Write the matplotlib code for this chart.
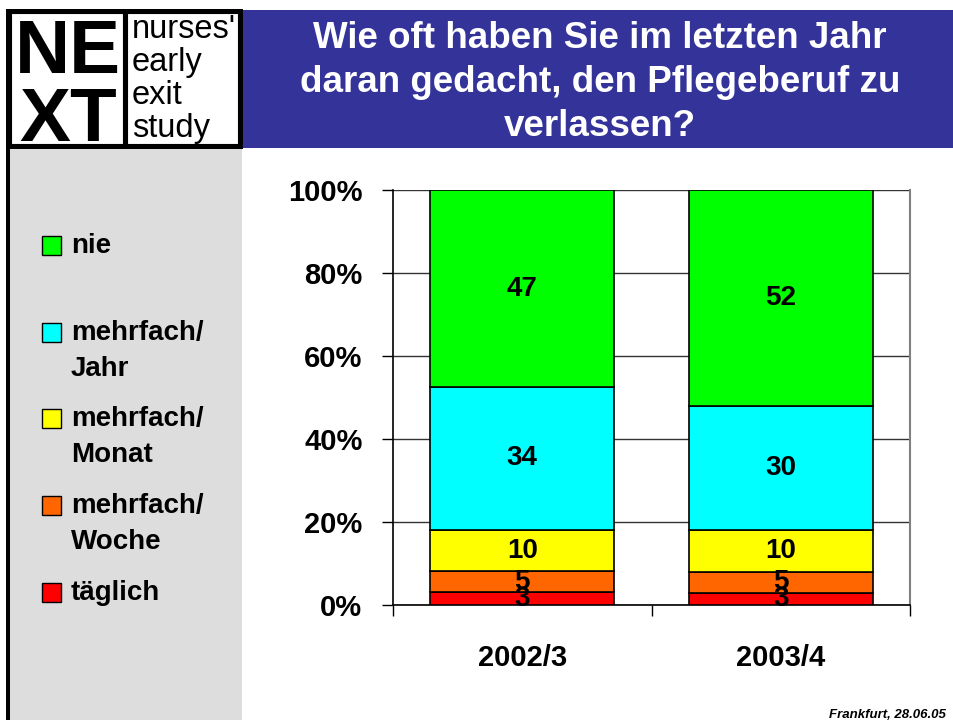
import numpy as np
import matplotlib
matplotlib.use('Agg')
from matplotlib import pyplot as plt
from matplotlib.patches import Rectangle

plt.rcParams['font.family'] = ['Liberation Sans', 'DejaVu Sans']

# Daten
jahre = ['2002/3', '2003/4']
kategorien = ['täglich', 'mehrfach/\nWoche', 'mehrfach/\nMonat', 'mehrfach/\nJahr', 'nie']
farben = ['#FF0000', '#FF6600', '#FFFF00', '#00FFFF', '#00FF00']
taeglich = [3, 3]
woche = [5, 5]
monat = [10, 10]
jahr = [34, 30]
nie = [47, 52]
yticks = [0, 20, 40, 60, 80, 100]

werte = np.array([taeglich, woche, monat, jahr, nie], dtype=float)
prozent = werte / werte.sum(axis=0) * 100

W, H = 954, 720
fig = plt.figure(figsize=(W / 100, H / 100), dpi=100)
fig.patch.set_facecolor('white')

# Hintergrund / Rahmen in Pixelkoordinaten
bg = fig.add_axes([0, 0, 1, 1], zorder=0)
bg.set_xlim(0, W)
bg.set_ylim(H, 0)
bg.axis('off')

bg.add_patch(Rectangle((243, 10), W - 243, 138, color='#333399', lw=0))
bg.add_patch(Rectangle((10, 148), 232, H - 148, color='#DDDDDD', lw=0))
bg.add_patch(Rectangle((6, 148), 4, H - 148, color='black', lw=0))

# Logo
bg.add_patch(Rectangle((6, 9), 237, 140, color='black', lw=0))
bg.add_patch(Rectangle((11, 13), 112, 131, facecolor='white', edgecolor='black', lw=0.8))
bg.add_patch(Rectangle((127, 13), 111, 131, facecolor='white', edgecolor='black', lw=0.8))
bg.text(68, 73, 'NE', fontsize=55, fontweight='bold', ha='center', va='baseline')
bg.text(68, 141, 'XT', fontsize=55, fontweight='bold', ha='center', va='baseline')
for i, w in enumerate(["nurses'", 'early', 'exit', 'study']):
    bg.text(132, 38 + i * 33, w, fontsize=23.5, ha='left', va='baseline')

# Titel
titel = ['Wie oft haben Sie im letzten Jahr', 'daran gedacht, den Pflegeberuf zu', 'verlassen?']
for i, t in enumerate(titel):
    bg.text(600, 38 + i * 44, t, fontsize=26.5, fontweight='bold', color='white',
            ha='center', va='center')

# Legende
leg_y = [593, 506, 419, 333, 246]
for lab, c, y in zip(kategorien, farben, leg_y):
    bg.add_patch(Rectangle((42, y - 10), 19, 19, facecolor=c, edgecolor='black', lw=1))
    for k, zeile in enumerate(lab.split('\n')):
        bg.text(71, y + k * 36, zeile, fontsize=20, fontweight='bold',
                ha='left', va='center')

bg.text(946, 715, 'Frankfurt, 28.06.05', fontsize=9.5, fontweight='bold', style='italic',
        ha='right', va='center')

# Diagramm
ax = fig.add_axes([393 / W, 1 - 605 / H, (910 - 393) / W, (605 - 190) / H], zorder=1)
ax.set_facecolor('white')
x = np.arange(len(jahre))
unten = np.zeros(len(jahre))
for i in range(len(kategorien)):
    ax.bar(x, prozent[i], 0.71, bottom=unten, color=farben[i], edgecolor='black',
           linewidth=1.2, zorder=3)
    for j in range(len(jahre)):
        ax.text(x[j], unten[j] + prozent[i][j] / 2, '%d' % werte[i][j], fontsize=20,
                fontweight='bold', ha='center', va='center', zorder=4)
    unten += prozent[i]

ax.set_xlim(-0.5, 1.5)
ax.set_ylim(0, 100)
ax.set_yticks(yticks)
ax.set_yticklabels(['%d%%' % v for v in yticks], fontsize=21, fontweight='bold')
ax.yaxis.grid(True, color='#333333', linewidth=1)
ax.set_axisbelow(True)
ax.set_xticks([-0.5, 0.5, 1.5])
ax.set_xticklabels([])
ax.set_xticks(x, minor=True)
ax.set_xticklabels(jahre, minor=True, fontsize=21, fontweight='bold')
ax.tick_params(axis='x', which='major', direction='out', length=8, width=1)
ax.tick_params(axis='x', which='minor', length=0, pad=28)
ax.tick_params(axis='y', direction='out', length=8, width=1, pad=14)
ax.spines['top'].set_visible(False)
ax.spines['right'].set_color('#808080')
ax.spines['right'].set_linewidth(1.5)
ax.spines['left'].set_linewidth(1.2)
ax.spines['bottom'].set_linewidth(1.2)

fig.savefig('out.png', dpi=100)
